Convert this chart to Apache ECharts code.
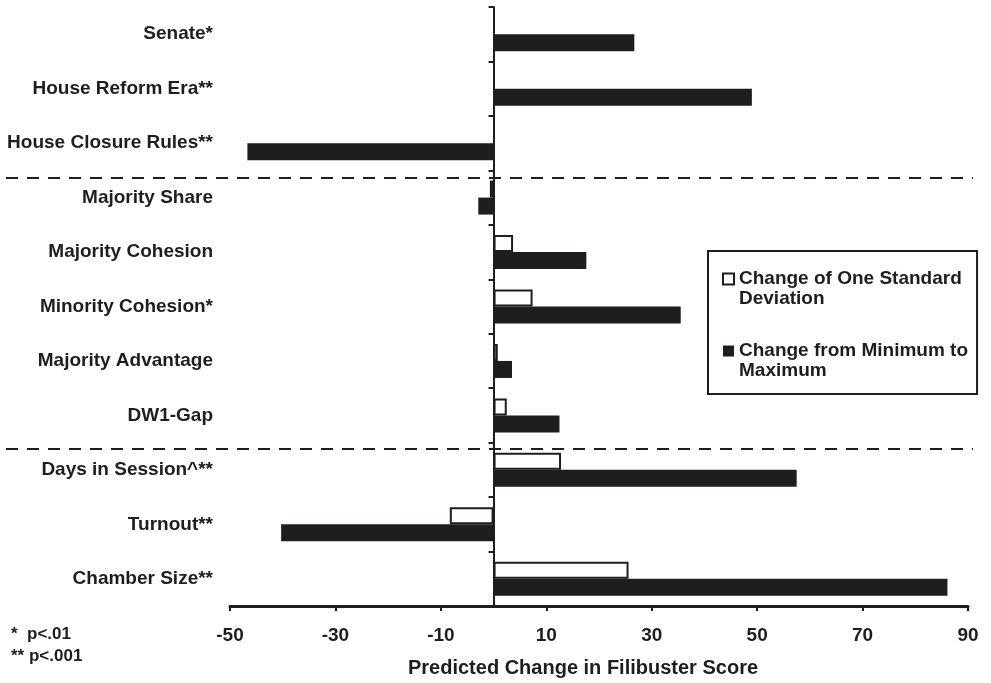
<!DOCTYPE html>
<html>
<head>
<meta charset="utf-8">
<script src="https://cdn.jsdelivr.net/npm/echarts@6/dist/echarts.min.js"></script>
<style>
  html, body { margin: 0; padding: 0; background: #ffffff; }
  #chart { width: 991px; height: 683px; }
</style>
</head>
<body>
<div id="chart"></div>
<script>
// Predictors of the filibuster score, top to bottom
const categories = [
  'Senate*', 'House Reform Era**', 'House Closure Rules**',
  'Majority Share', 'Majority Cohesion', 'Minority Cohesion*',
  'Majority Advantage', 'DW1-Gap',
  'Days in Session^**', 'Turnout**', 'Chamber Size**'
];
// Predicted change for a one standard deviation shift (dichotomous terms have none)
const oneSD = [null, null, null, -0.7, 3.7, 7.4, 0.8, 2.5, 12.8, -8.3, 25.6];
// Predicted change moving from the minimum to the maximum value
const minToMax = [26.7, 49, -46.7, -2.9, 17.6, 35.5, 3.5, 12.5, 57.5, -40.3, 86.1];
// Value axis range and tick step
const xMin = -50, xMax = 90, xStep = 20;

const ink = '#1f1d1e';
const font = '"Liberation Sans", Arial, sans-serif';
const seriesNames = ['Change of One Standard\nDeviation', 'Change from Minimum to\nMaximum'];

const chart = echarts.init(document.getElementById('chart'), null, { renderer: 'canvas' });

// Legend icon: square aligned with the first text line of a two-line entry
const squareIcon = 'path://M0,4.5H11V15.5H0Z M0,0H0.01 M0,40H0.01';

chart.setOption({
  backgroundColor: '#ffffff',
  animation: false,
  textStyle: { fontFamily: font },
  title: {
    text: '*  p<.01\n** p<.001',
    left: 6,
    top: 618,
    textStyle: { fontFamily: font, fontSize: 17, fontWeight: 'bold', color: ink, lineHeight: 22 }
  },
  legend: {
    orient: 'vertical',
    left: 708,
    top: 251,
    padding: [17, 9, 13, 14],
    itemGap: 31,
    itemWidth: 11,
    itemHeight: 40,
    borderColor: ink,
    borderWidth: 2,
    selectedMode: false,
    data: [
      { name: seriesNames[0], icon: squareIcon },
      { name: seriesNames[1], icon: squareIcon }
    ],
    textStyle: { fontFamily: font, fontSize: 19, fontWeight: 'bold', color: ink, lineHeight: 20 }
  },
  grid: [
    { left: 230, right: 23, top: 7, bottom: 73 },
    { left: 6, right: 18, top: 7, bottom: 73 }
  ],
  xAxis: [
    {
      type: 'value',
      gridIndex: 0,
      min: xMin,
      max: xMax,
      interval: xStep,
      splitLine: { show: false },
      axisLine: { show: true, lineStyle: { color: ink, width: 3 } },
      axisTick: { show: true, length: 5, lineStyle: { color: ink, width: 2 } },
      axisLabel: { fontFamily: font, fontSize: 19, fontWeight: 'bold', color: ink, margin: 20 },
      name: 'Predicted Change in Filibuster Score',
      nameLocation: 'middle',
      nameGap: 52,
      nameTextStyle: { fontFamily: font, fontSize: 20, fontWeight: 'bold', color: ink, padding: [0, 32, 0, 0] }
    },
    { type: 'value', gridIndex: 1, min: 0, max: 1, show: false }
  ],
  yAxis: [
    {
      // category labels down the left edge
      type: 'category',
      gridIndex: 0,
      data: categories,
      inverse: true,
      position: 'left',
      axisLine: { show: false, onZero: false },
      axisTick: { show: false },
      axisLabel: { fontFamily: font, fontSize: 19, fontWeight: 'bold', color: ink, margin: 17 }
    },
    {
      // the zero line with its category ticks
      type: 'category',
      gridIndex: 0,
      data: categories,
      inverse: true,
      position: 'left',
      axisLine: { show: true, onZero: true, lineStyle: { color: ink, width: 2 } },
      axisTick: { show: true, length: 5, lineStyle: { color: ink, width: 2 } },
      axisLabel: { show: false }
    },
    { type: 'value', gridIndex: 1, min: 0, max: categories.length, inverse: true, show: false }
  ],
  series: [
    {
      name: seriesNames[0],
      type: 'bar',
      xAxisIndex: 0,
      yAxisIndex: 0,
      data: oneSD,
      barWidth: 17,
      barGap: '0%',
      itemStyle: { color: '#ffffff', borderColor: ink, borderWidth: 2 }
    },
    {
      name: seriesNames[1],
      type: 'bar',
      xAxisIndex: 0,
      yAxisIndex: 0,
      data: minToMax,
      barWidth: 17,
      barGap: '0%',
      itemStyle: { color: ink, borderColor: ink, borderWidth: 0 }
    },
    {
      // dashed separators between the predictor groups
      type: 'line',
      xAxisIndex: 1,
      yAxisIndex: 2,
      data: [],
      silent: true,
      markLine: {
        silent: true,
        symbol: 'none',
        label: { show: false },
        lineStyle: { color: ink, width: 2, type: [12, 9] },
        data: [{ yAxis: 3.11 }, { yAxis: 8.05 }]
      }
    }
  ]
});
</script>
</body>
</html>
